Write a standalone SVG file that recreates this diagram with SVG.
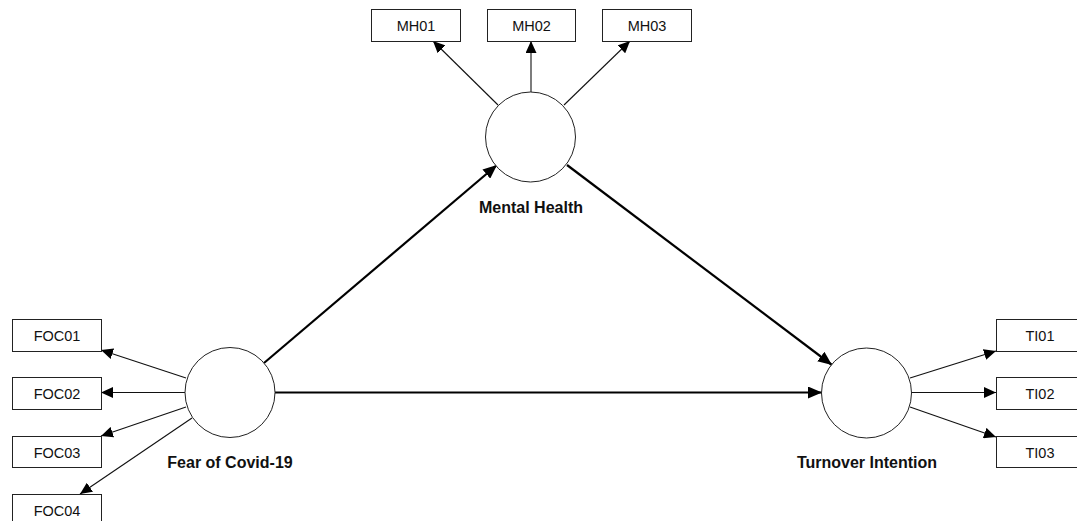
<svg xmlns="http://www.w3.org/2000/svg" width="1077" height="521" viewBox="0 0 1077 521">
<style>
.box{fill:#fff;stroke:#222;stroke-width:1}
.lv{fill:#fff;stroke:#222;stroke-width:1}
.bt{font-family:"Liberation Sans",Arial,sans-serif;font-size:14.5px;fill:#111;text-anchor:middle}
.lt{font-family:"Liberation Sans",Arial,sans-serif;font-size:16px;font-weight:bold;fill:#111;text-anchor:middle}
.thin{stroke:#111;stroke-width:1.1;fill:none;marker-end:url(#ah)}
.thick{stroke:#000;stroke-width:2.2;fill:none;marker-end:url(#ahb)}
</style>
<defs>
<marker id="ah" markerUnits="userSpaceOnUse" markerWidth="12" markerHeight="11" refX="12" refY="5.5" orient="auto"><path d="M0,0 L12,5.5 L0,11 z" fill="#000"/></marker>
<marker id="ahb" markerUnits="userSpaceOnUse" markerWidth="14" markerHeight="12" refX="14" refY="6" orient="auto"><path d="M0,0 L14,6 L0,12 z" fill="#000"/></marker>
</defs>
<g id="connectors">
<line class="thin" x1="498" y1="105" x2="433" y2="41"/>
<line class="thin" x1="531" y1="92" x2="531" y2="41"/>
<line class="thin" x1="564" y1="105" x2="630" y2="41"/>
<line class="thin" x1="186" y1="378" x2="101" y2="350"/>
<line class="thin" x1="185" y1="392.5" x2="101" y2="392.5"/>
<line class="thin" x1="186" y1="407" x2="101" y2="436"/>
<line class="thin" x1="192" y1="418" x2="80" y2="494"/>
<line class="thin" x1="910" y1="378" x2="996" y2="351"/>
<line class="thin" x1="911" y1="392.5" x2="996" y2="392.5"/>
<line class="thin" x1="910" y1="407" x2="996" y2="437"/>
<line class="thick" x1="264" y1="363" x2="497" y2="165"/>
<line class="thick" x1="567" y1="165" x2="832" y2="365"/>
<line class="thick" x1="275" y1="392.5" x2="822" y2="392.5"/>
</g>
<g id="MH01"><rect class="box" x="371.5" y="9.5" width="89" height="32"/><text class="bt" x="416" y="31">MH01</text></g>
<g id="MH02"><rect class="box" x="487.5" y="9.5" width="88" height="32"/><text class="bt" x="531.5" y="31">MH02</text></g>
<g id="MH03"><rect class="box" x="602.5" y="9.5" width="89" height="32"/><text class="bt" x="647" y="31">MH03</text></g>
<g id="MentalHealth"><circle class="lv" cx="530.5" cy="137" r="45"/><text class="lt" x="531" y="213">Mental Health</text></g>
<g id="FOC01"><rect class="box" x="12.5" y="319.5" width="89" height="32"/><text class="bt" x="57" y="341">FOC01</text></g>
<g id="FOC02"><rect class="box" x="12.5" y="377.5" width="89" height="32"/><text class="bt" x="57" y="399">FOC02</text></g>
<g id="FOC03"><rect class="box" x="12.5" y="436.5" width="89" height="31"/><text class="bt" x="57" y="457.5">FOC03</text></g>
<g id="FOC04"><rect class="box" x="12.5" y="494.5" width="89" height="32"/><text class="bt" x="57" y="516">FOC04</text></g>
<g id="FearOfCovid"><circle class="lv" cx="230" cy="392.5" r="45"/><text class="lt" x="230" y="468">Fear of Covid-19</text></g>
<g id="TurnoverIntention"><circle class="lv" cx="866.5" cy="393" r="45"/><text class="lt" x="867" y="468">Turnover Intention</text></g>
<g id="TI01"><rect class="box" x="996.5" y="319.5" width="89" height="32"/><text class="bt" x="1040" y="341">TI01</text></g>
<g id="TI02"><rect class="box" x="996.5" y="377.5" width="89" height="32"/><text class="bt" x="1040" y="399">TI02</text></g>
<g id="TI03"><rect class="box" x="996.5" y="436.5" width="89" height="31"/><text class="bt" x="1040" y="457.5">TI03</text></g>
</svg>
